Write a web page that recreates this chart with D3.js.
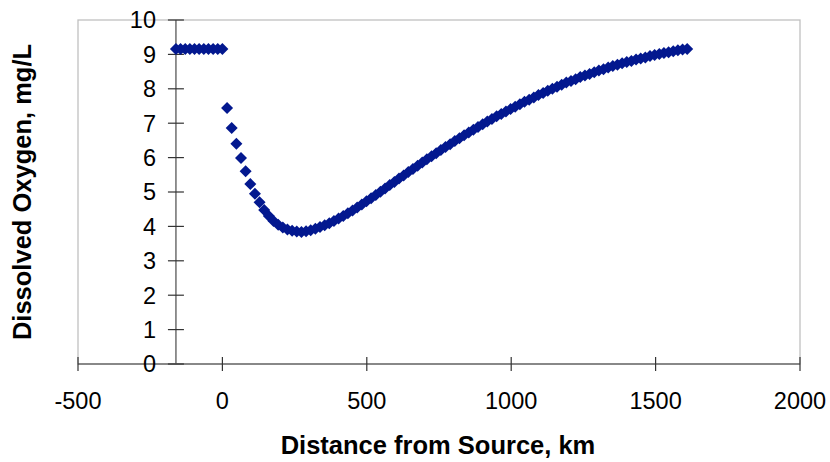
<!DOCTYPE html>
<html>
<head>
<meta charset="utf-8">
<script src="https://cdn.jsdelivr.net/npm/d3@7"></script>
<style>
  html, body { margin: 0; padding: 0; background: #fff; }
  svg { display: block; }
  text { font-family: Arial, "Liberation Sans", sans-serif; fill: #000; }
</style>
</head>
<body>
<svg id="chart" width="830" height="462"></svg>
<script>
// ---- data ----
const distanceKm = [
  -160.9, -144.8, -128.7, -112.6, -96.6, -80.5, -64.4, -48.3, -32.2, -16.1, 0,
  16.1, 32.2, 48.3, 64.4, 80.5, 96.6, 112.6, 128.7, 144.8, 160.9,
  177.0, 193.1, 209.2, 225.3, 241.4, 257.5, 273.6, 289.7, 305.8, 321.9,
  338.0, 354.1, 370.1, 386.2, 402.3, 418.4, 434.5, 450.6, 466.7, 482.8,
  498.9, 515.0, 531.1, 547.2, 563.3, 579.4, 595.5, 611.6, 627.6, 643.7,
  659.8, 675.9, 692.0, 708.1, 724.2, 740.3, 756.4, 772.5, 788.6, 804.7,
  820.8, 836.9, 853.0, 869.1, 885.1, 901.2, 917.3, 933.4, 949.5, 965.6,
  981.7, 997.8, 1013.9, 1030.0, 1046.1, 1062.2, 1078.3, 1094.4, 1110.5, 1126.5,
  1142.6, 1158.7, 1174.8, 1190.9, 1207.0, 1223.1, 1239.2, 1255.3, 1271.4, 1287.5,
  1303.6, 1319.7, 1335.8, 1351.9, 1367.9, 1384.0, 1400.1, 1416.2, 1432.3, 1448.4,
  1464.5, 1480.6, 1496.7, 1512.8, 1528.9, 1545.0, 1561.1, 1577.2, 1593.3, 1609.3
];
const dissolvedOxygen = [
  9.16, 9.16, 9.16, 9.16, 9.16, 9.16, 9.16, 9.16, 9.16, 9.16, 9.16,
  7.44, 6.86, 6.40, 5.99, 5.60, 5.23, 4.95, 4.70, 4.48, 4.30,
  4.16, 4.05, 3.97, 3.91, 3.87, 3.85, 3.84, 3.86, 3.89, 3.93,
  3.98, 4.03, 4.09, 4.16, 4.23, 4.30, 4.38, 4.46, 4.55, 4.64,
  4.73, 4.82, 4.91, 5.01, 5.10, 5.20, 5.29, 5.39, 5.48, 5.58,
  5.67, 5.76, 5.86, 5.95, 6.04, 6.13, 6.22, 6.31, 6.39, 6.48,
  6.56, 6.65, 6.73, 6.81, 6.89, 6.97, 7.05, 7.12, 7.20, 7.27,
  7.34, 7.41, 7.48, 7.55, 7.62, 7.68, 7.75, 7.82, 7.88, 7.94,
  8.00, 8.06, 8.12, 8.18, 8.23, 8.28, 8.34, 8.39, 8.43, 8.48,
  8.53, 8.57, 8.62, 8.66, 8.70, 8.74, 8.78, 8.81, 8.85, 8.88,
  8.91, 8.95, 8.98, 9.01, 9.04, 9.06, 9.09, 9.12, 9.14, 9.16
];
const xTicks = [-500, 0, 500, 1000, 1500, 2000];
const yTicks = [0, 1, 2, 3, 4, 5, 6, 7, 8, 9, 10];
const xDomain = [-500, 2000];
const yDomain = [0, 10];
const yAxisCrossing = -160.9;
const xTitle = "Distance from Source, km";
const yTitle = "Dissolved Oxygen, mg/L";

// ---- drawing ----
const svg = d3.select("#chart");
const plot = { left: 78, right: 800, top: 20, bottom: 364 };
const x = d3.scaleLinear().domain(xDomain).range([plot.left, plot.right]);
const y = d3.scaleLinear().domain(yDomain).range([plot.bottom, plot.top]);

// plot area border
svg.append("rect")
  .attr("x", plot.left).attr("y", plot.top)
  .attr("width", plot.right - plot.left).attr("height", plot.bottom - plot.top)
  .attr("fill", "none").attr("stroke", "#c0c0c0").attr("stroke-width", 1.3);

// x axis (crossing ticks)
const gx = svg.append("g").attr("transform", `translate(0,${y(0)})`);
gx.append("line").attr("x1", x(xDomain[0])).attr("x2", x(xDomain[1]))
  .attr("stroke", "#6e6e6e").attr("stroke-width", 1.5);
gx.selectAll("line.tick").data(xTicks).join("line").attr("class", "tick")
  .attr("x1", d => x(d)).attr("x2", d => x(d)).attr("y1", -7).attr("y2", 7)
  .attr("stroke", "#333").attr("stroke-width", 1.2);
gx.selectAll("text").data(xTicks).join("text")
  .attr("x", d => x(d)).attr("y", 45)
  .attr("text-anchor", "middle").attr("font-size", 23.5)
  .text(d => d);

// y axis at crossing
const ax = x(yAxisCrossing);
const gy = svg.append("g");
gy.append("line").attr("x1", ax).attr("x2", ax).attr("y1", y(0)).attr("y2", y(10))
  .attr("stroke", "#6e6e6e").attr("stroke-width", 1.5);
gy.selectAll("line.tick").data(yTicks).join("line").attr("class", "tick")
  .attr("x1", ax - 8).attr("x2", ax + 8).attr("y1", d => y(d)).attr("y2", d => y(d))
  .attr("stroke", "#333").attr("stroke-width", 1.2);
gy.selectAll("text").data(yTicks).join("text")
  .attr("x", 156).attr("y", d => y(d)).attr("dy", "0.36em")
  .attr("text-anchor", "end").attr("font-size", 23.5)
  .text(d => d);

// axis titles
svg.append("text").attr("x", 438).attr("y", 454)
  .attr("text-anchor", "middle").attr("font-size", 25.5).attr("font-weight", "bold")
  .text(xTitle);
svg.append("text")
  .attr("transform", `translate(31,${(plot.top + plot.bottom) / 2}) rotate(-90)`)
  .attr("text-anchor", "middle").attr("font-size", 25.5).attr("font-weight", "bold")
  .text(yTitle);

// markers
const pts = distanceKm.map((d, i) => ({ km: d, o2: dissolvedOxygen[i] }));
const r = 6;
const diamond = `M0,${-r}L${r},0L0,${r}L${-r},0Z`;
svg.append("g").selectAll("path").data(pts).join("path")
  .attr("d", diamond)
  .attr("transform", d => `translate(${x(d.km)},${y(d.o2)})`)
  .attr("fill", "#03188f");
</script>
</body>
</html>
